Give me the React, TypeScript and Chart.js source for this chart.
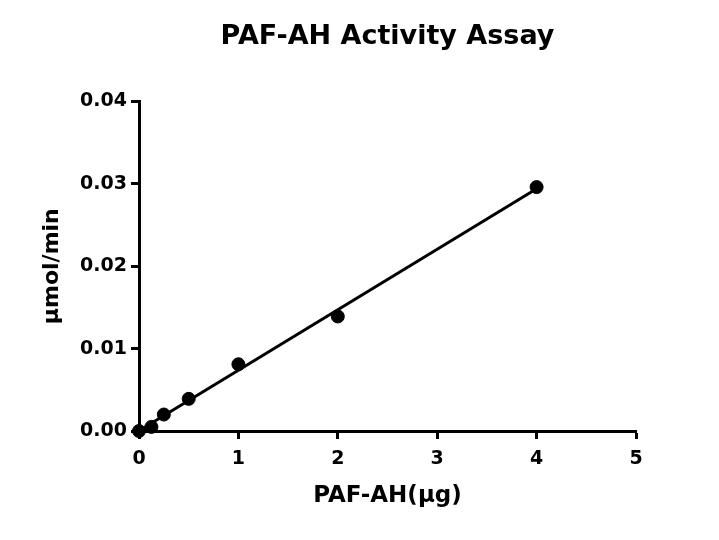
import React, { useEffect, useRef } from "react";
import { Chart, registerables } from "chart.js";

Chart.register(...registerables);

const doseUg = [0, 0.125, 0.25, 0.5, 1, 2, 4];
const activity = [0, 0.0005, 0.002, 0.0039, 0.0081, 0.0139, 0.0296];
const xTicks = [0, 1, 2, 3, 4, 5];
const yTicks = [0, 0.01, 0.02, 0.03, 0.04];

function linearFit(xs: number[], ys: number[]) {
  const n = xs.length;
  const mx = xs.reduce((a, b) => a + b, 0) / n;
  const my = ys.reduce((a, b) => a + b, 0) / n;
  let sxy = 0, sxx = 0;
  for (let i = 0; i < n; i++) {
    sxy += (xs[i] - mx) * (ys[i] - my);
    sxx += (xs[i] - mx) * (xs[i] - mx);
  }
  const slope = sxy / sxx;
  return { slope, intercept: my - slope * mx };
}

export default function App() {
  const ref = useRef<HTMLCanvasElement | null>(null);
  useEffect(() => {
    if (!ref.current) return;
    const fit = linearFit(doseUg, activity);
    const xmin = doseUg[0];
    const xmax = doseUg[doseUg.length - 1];
    const font = "'DejaVu Sans', sans-serif";
    const chart = new Chart(ref.current, {
      type: "scatter",
      data: {
        datasets: [
          {
            type: "line",
            data: [
              { x: xmin, y: fit.intercept + fit.slope * xmin },
              { x: xmax, y: fit.intercept + fit.slope * xmax },
            ],
            borderColor: "#000",
            borderWidth: 3,
            pointRadius: 0,
            fill: false,
            clip: false,
          },
          {
            data: doseUg.map((x, i) => ({ x, y: activity[i] })),
            backgroundColor: "#000",
            borderColor: "#000",
            pointRadius: 6.5,
            pointHoverRadius: 6.5,
            clip: false,
          },
        ],
      },
      options: {
        animation: false,
        responsive: false,
        devicePixelRatio: 1,
        layout: { padding: { left: 0, right: 83, top: 0, bottom: 0 } },
        plugins: {
          legend: { display: false },
          tooltip: { enabled: false },
          title: {
            display: true,
            fullSize: false,
            text: "PAF-AH Activity Assay",
            color: "#000",
            font: { family: font, size: 27, weight: "bold" },
            padding: { top: 21, bottom: 48 },
          },
        },
        scales: {
          x: {
            type: "linear",
            min: 0,
            max: 5,
            afterBuildTicks: (s: any) => {
              s.ticks = xTicks.map((v) => ({ value: v }));
            },
            afterFit: (s: any) => {
              s.height = 109;
            },
            border: { display: true, color: "#000", width: 3 },
            grid: {
              display: true,
              drawOnChartArea: false,
              drawTicks: true,
              tickLength: 8,
              tickWidth: 3,
              tickColor: "#000",
            },
            ticks: {
              color: "#000",
              padding: 9,
              font: { family: font, size: 19, weight: "bold" },
              callback: (v: any) => String(v),
            },
            title: {
              display: true,
              text: "PAF-AH(μg)",
              color: "#000",
              font: { family: font, size: 23, weight: "bold" },
              padding: { top: 0, bottom: 30 },
            },
          },
          y: {
            type: "linear",
            min: 0,
            max: 0.04,
            afterBuildTicks: (s: any) => {
              s.ticks = yTicks.map((v) => ({ value: v }));
            },
            afterFit: (s: any) => {
              s.width = 139;
            },
            border: { display: true, color: "#000", width: 3 },
            grid: {
              display: true,
              drawOnChartArea: false,
              drawTicks: true,
              tickLength: 8,
              tickWidth: 3,
              tickColor: "#000",
            },
            ticks: {
              color: "#000",
              padding: 4,
              font: { family: font, size: 19, weight: "bold" },
              callback: (v: any) => Number(v).toFixed(2),
            },
            title: {
              display: true,
              text: "μmol/min",
              color: "#000",
              font: { family: font, size: 22, weight: "bold" },
              padding: { top: 39, bottom: 0 },
            },
          },
        },
      },
    } as any);
    return () => chart.destroy();
  }, []);
  return (
    <div style={{ position: "fixed", left: 0, top: 0, width: 719, height: 540, background: "#fff" }}>
      <canvas ref={ref} width={719} height={540} style={{ width: 719, height: 540 }} />
    </div>
  );
}
